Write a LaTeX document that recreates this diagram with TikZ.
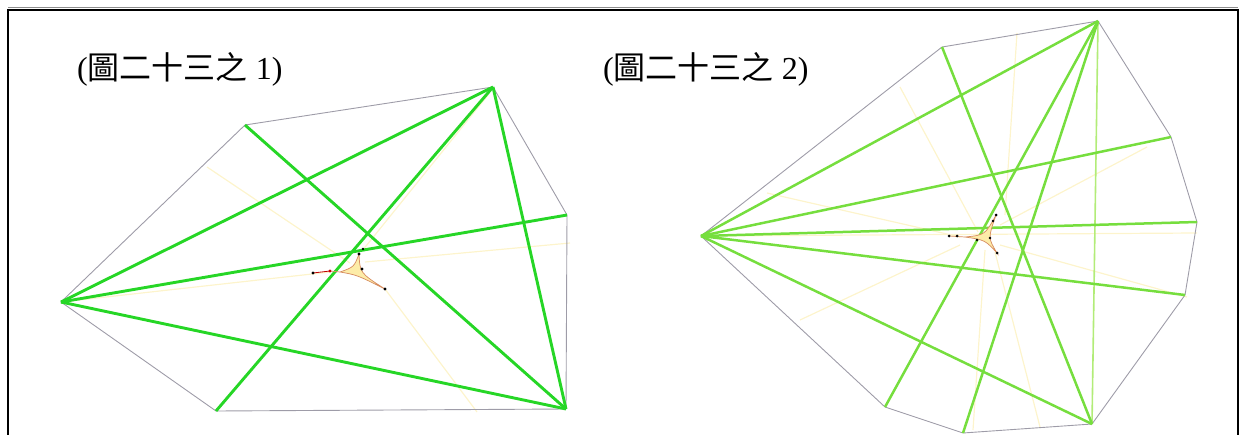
\documentclass[tikz,border=0pt]{standalone}
\usepackage{fontspec}
\setmainfont{Liberation Serif}
\newfontfamily\cjk{Noto Sans CJK TC}

\definecolor{edgegray}{RGB}{158,156,168}
\definecolor{chordgreen}{RGB}{38,214,38}
\definecolor{chordlime}{RGB}{118,222,62}
\definecolor{palelime}{RGB}{178,236,120}
\definecolor{faintyellow}{RGB}{253,244,204}
\definecolor{curveorange}{RGB}{214,140,96}
\definecolor{curvefill}{RGB}{253,236,168}

\tikzset{
  hull/.style={draw=edgegray, line width=0.9pt, line join=round},
  chord/.style={draw=chordgreen, line width=2.9pt},
  chordb/.style={draw=chordlime, line width=2.5pt},
  faint/.style={draw=faintyellow, line width=1.2pt},
  arcline/.style={draw=curveorange, line width=0.7pt},
  caption/.style={inner sep=0pt, anchor=base west, font=\fontsize{32}{34}\selectfont}
}

\begin{document}
\begin{tikzpicture}[x=1pt, y=-1pt]
        \useasboundingbox (0,0) rectangle (1242,434);

        % Frame
        \draw[black!45, line width=0.6pt] (8,7) -- (1238,7);
        \draw[black, line width=1.8pt] (8,440) -- (8,10) -- (1238,10) -- (1238,440);

        % Captions
        \node[caption] (cap1) at (77,79) {(\cjk 圖二十三之\normalfont\ 1)};
        \node[caption] (cap2) at (603,79) {(\cjk 圖二十三之\normalfont\ 2)};

        % Left side (hexagon)
        % Define points for hexagon
        \coordinate (p1) at (245,125);
        \coordinate (p2) at (493,87);
        \coordinate (p3) at (567,215);
        \coordinate (p4) at (566,409);
        \coordinate (p5) at (216,411);
        \coordinate (p6) at (61,302);

        % Faint lines
        \draw[faint] (207,167) -- (350,263);
        \draw[faint] (p6) -- (330,272);
        \draw[faint] (570,243) -- (365,262);
        \draw[faint] (477,412) -- (385,289);
        \draw[faint] (488,95) -- (362,251);

        % Draw hexagon
        \draw[hull] (p1) -- (p2) -- (p3) -- (p4) -- (p5) -- (p6) -- cycle;

        % Chords
        \draw[chord] (p1) -- (p4);
        \draw[chord] (p6) -- (p2);
        \draw[chord] (p6) -- (p3);
        \draw[chord] (p6) -- (p4);
        \draw[chord] (p5) -- (p2);
        \draw[chord] (p2) -- (p4);

        % Small curved triangle
        \coordinate (m1) at (313,273);
        \coordinate (m2) at (330,271);
        \coordinate (t1) at (340,272);
        \coordinate (t2) at (359,254);
        \coordinate (t3) at (385,289);
        \fill[curvefill] (t1) .. controls (354,267) .. (t2) .. controls (360,273) .. (t3) .. controls (357,275) .. (t1);
        \draw[arcline] (t1) .. controls (354,267) .. (t2) .. controls (360,273) .. (t3) .. controls (357,275) .. (t1);
        \draw[red!75!black, line width=0.8pt] (m1) -- (m2);
        \draw[arcline] (m2) -- (t1);
        \fill[black] (m1) circle (1.6pt);
        \fill[red!80!black] (m2) circle (1.6pt);
        \fill[black] (t2) circle (1.6pt);
        \fill[black] (363,249) circle (1.4pt);
        \fill[black] (362,269) circle (1.6pt);
        \fill[black] (t3) circle (1.6pt);

        % Right side (nonagon)
        % Define points for nonagon
        \coordinate (q1) at (942,47);
        \coordinate (q2) at (1098,21);
        \coordinate (q3) at (1171,137);
        \coordinate (q4) at (1197,222);
        \coordinate (q5) at (1185,295);
        \coordinate (q6) at (1092,424);
        \coordinate (q7) at (963,433);
        \coordinate (q8) at (885,407);
        \coordinate (q9) at (701,236);

        % Faint lines
        \draw[faint] (1017,33) -- (1005,215);
        \draw[faint] (900,87) -- (978,232);
        \draw[faint] (767,193) -- (960,237);
        \draw[faint] (q9) -- (1197,233);
        \draw[faint] (1147,147) -- (1000,225);
        \draw[faint] (800,320) -- (960,245);
        \draw[faint] (973,430) -- (985,250);
        \draw[faint] (1040,427) -- (995,252);
        \draw[faint] (1187,297) -- (1000,245);

        % Draw nonagon
        \draw[hull] (q1) -- (q2) -- (q3) -- (q4) -- (q5) -- (q6) -- (q7) -- (q8) -- (q9) -- cycle;

        % Chords
        \draw[palelime, line width=1.6pt] (q2) -- (q6);
        \draw[chordb] (q9) -- (q2);
        \draw[chordb] (q9) -- (q3);
        \draw[chordb] (q9) -- (q4);
        \draw[chordb] (q9) -- (q5);
        \draw[chordb] (q9) -- (q6);
        \draw[chordb] (q1) -- (q6);
        \draw[chordb] (q8) -- (q2);
        \draw[chordb] (q7) -- (q2);

        % Small curved triangle
        \coordinate (n1) at (949,236);
        \coordinate (n2) at (957,236);
        \coordinate (u1) at (965,237);
        \coordinate (u2) at (996,215);
        \coordinate (u3) at (997,253);
        \fill[curvefill] (u1) .. controls (985,235) .. (u2) .. controls (988,238) .. (u3) .. controls (985,240) .. (u1);
        \draw[arcline] (u1) .. controls (985,235) .. (u2) .. controls (988,238) .. (u3) .. controls (985,240) .. (u1);
        \draw[arcline] (n1) -- (u1);
        \fill[black] (n1) circle (1.5pt);
        \fill[black] (n2) circle (1.5pt);
        \fill[black] (977,240) circle (1.3pt);
        \fill[black] (990,238) circle (1.3pt);
        \fill[black] (u2) circle (1.5pt);
        \fill[black] (993,221) circle (1.3pt);
        \fill[black] (u3) circle (1.5pt);

    \end{tikzpicture}
\end{document}
